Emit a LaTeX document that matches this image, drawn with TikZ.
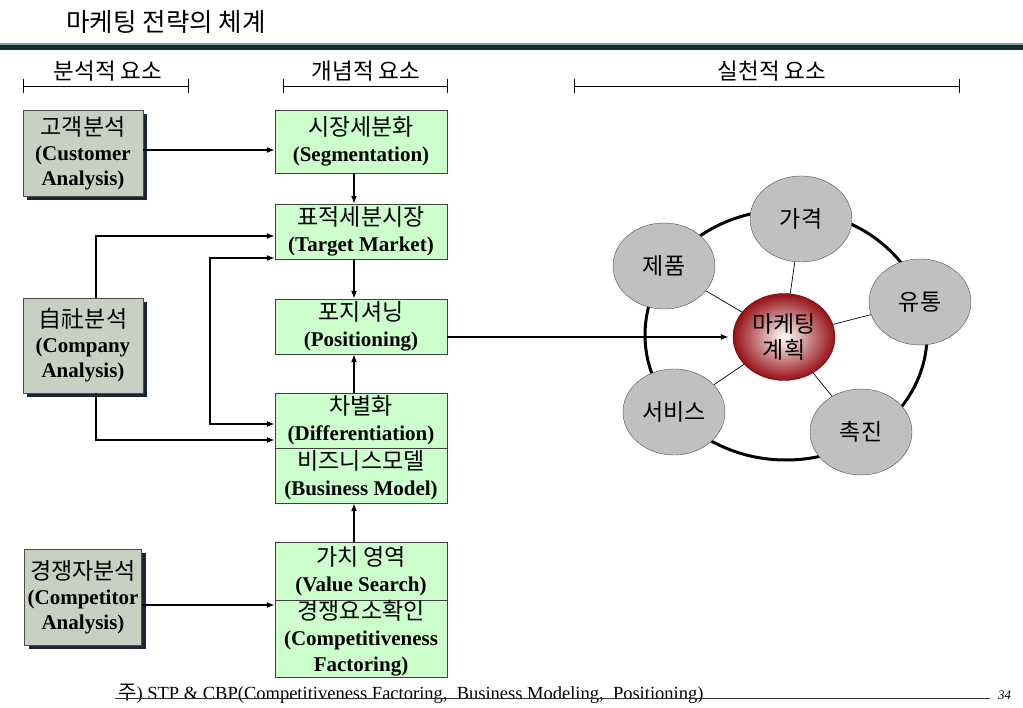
\documentclass[tikz,border=0pt]{standalone}
\usepackage{fontspec}
\setmainfont{Liberation Serif}
\newfontfamily\kr{Noto Sans CJK KR}
\usetikzlibrary{arrows.meta,shapes.geometric,shadows,backgrounds}

\definecolor{anagray}{RGB}{200,208,194}
\definecolor{shadowblue}{RGB}{28,36,56}
\definecolor{stepgreen}{RGB}{204,255,204}
\definecolor{ballgray}{RGB}{192,192,192}
\definecolor{plandark}{RGB}{150,15,20}
\definecolor{rulelight}{RGB}{138,158,158}
\definecolor{ruledark}{RGB}{18,46,46}

\newcommand{\krl}[1]{{\kr\fontsize{23}{25}\selectfont #1}}

\tikzset{
  anabox/.style={draw=black!70, fill=anagray, minimum width=120pt, align=center, inner sep=0pt,
    drop shadow={shadow xshift=4pt, shadow yshift=-4pt, fill=shadowblue, opacity=1},
    font=\fontsize{21}{25}\selectfont},
  stepbox/.style={draw=black!75, fill=stepgreen, minimum width=172pt, align=center, inner sep=0pt,
    font=\fontsize{21}{26}\selectfont},
  mixball/.style={ellipse, draw=black!70, fill=ballgray, minimum width=102pt, minimum height=86pt,
    inner sep=0pt, font=\kr\fontsize{23}{26}\selectfont},
  hdlabel/.style={font=\kr\fontsize{22.5}{24}\selectfont, inner sep=0pt},
  arr/.style={-{Latex[length=8pt,width=6pt]}, line width=1.4pt}
}

\begin{document}
\begin{tikzpicture}[x=1pt, y=-1pt]
  \useasboundingbox (0,0) rectangle (1023,708);

  % title
  \node (title) [anchor=west, font=\kr\fontsize{25.5}{28}\selectfont] at (63,22) {마케팅 전략의 체계};
  \draw[rulelight, line width=2pt] (0,44) -- (1023,44);
  \draw[ruledark, line width=5pt] (0,47.5) -- (1023,47.5);

  % column heads
  \foreach \a/\b/\m/\t [count=\i] in {23/189/108/분석적 요소, 283/448/366/개념적 요소, 574/960/772/실천적 요소} {
    \node (hd\i) [hdlabel] at (\m,71) {\t};
    \draw[{Bar[width=14pt]}-{Bar[width=14pt]}, line width=0.8pt] (\a,86) -- (\b,86);
  }

  % analysis
  \node (cust) [anabox, minimum height=86pt] at (83,153) {\krl{고객분석}\\\textbf{(Customer}\\\textbf{Analysis)}};
  \node (comp) [anabox, minimum height=95pt] at (83,345.5) {\krl{自社분석}\\\textbf{(Company}\\\textbf{Analysis)}};
  \node (rival) [anabox, minimum width=117pt, minimum height=96pt] at (83,597) {\krl{경쟁자분석}\\\textbf{(Competitor}\\\textbf{Analysis)}};

  % concepts
  \node (seg) [stepbox, minimum height=63pt] at (361,141.5) {\krl{시장세분화}\\\textbf{(Segmentation)}};
  \node (tgt) [stepbox, minimum height=55pt] at (361,231.5) {\krl{표적세분시장}\\\textbf{(Target Market)}};
  \node (pos) [stepbox, minimum height=55pt] at (361,326.5) {\krl{포지셔닝}\\\textbf{(Positioning)}};
  \node (diff) [stepbox, minimum height=55pt] at (361,420.5) {\krl{차별화}\\\textbf{(Differentiation)}};
  \node (bm) [stepbox, minimum height=55pt, node distance=55pt, below of=diff] {\krl{비즈니스모델}\\\textbf{(Business Model)}};
  \node (val) [stepbox, minimum height=58pt] at (361,571) {\krl{가치 영역}\\\textbf{(Value Search)}};
  \node (fac) [stepbox, minimum height=77pt, node distance=67.5pt, below of=val] {\krl{경쟁요소확인}\\\textbf{(Competitiveness}\\\textbf{Factoring)}};

  % marketing mix
  \node (plan) [ellipse, minimum width=102pt, minimum height=87pt, inner sep=0pt, draw=plandark!70!black,
    inner color=white, outer color=plandark, font=\kr\fontsize{23}{26}\selectfont, align=center] at (784,337) {마케팅\\계획};
  \node (price) [mixball] at (801,219) {가격};
  \node (product) [mixball] at (664,266) {제품};
  \node (place) [mixball] at (920,302) {유통};
  \node (service) [mixball] at (674,412) {서비스};
  \node (promo) [mixball] at (861,432) {촉진};

  \begin{pgfonlayer}{background}
    \draw[line width=3pt] (786,335) ellipse [x radius=141pt, y radius=125pt];
    \foreach \b in {price,product,place,service,promo}
      \draw[line width=0.7pt] (plan) -- (\b);
  \end{pgfonlayer}

  \draw[arr] (cust.east |- 0,150) -- (seg.west |- 0,150);
  \draw[arr] ([xshift=-7pt]seg.south) -- ([xshift=-7pt]tgt.north);
  \draw[arr] ([xshift=-7pt]tgt.south) -- ([xshift=-7pt]pos.north);
  \draw[arr] ([xshift=-7pt]diff.north) -- ([xshift=-7pt]pos.south);
  \draw[arr] ([xshift=-7pt]val.north) -- ([xshift=-7pt]bm.south);
  \draw[arr] (comp.north -| 96,0) |- (tgt.west |- 0,236);
  \draw[arr] (comp.south -| 96,0) |- (diff.west |- 0,440);
  \draw[arr, {Latex[length=8pt,width=6pt]}-{Latex[length=8pt,width=6pt]}] (tgt.west |- 0,258) -| (210,340) |- (diff.west |- 0,424);
  \draw[arr] (rival.east |- 0,605) -- (fac.west |- 0,605);
  \draw[arr, shorten >=4pt] (pos.east |- plan.west) -- (plan.west);

  % footnote
  \node (note) [anchor=base west, inner sep=0pt, font=\fontsize{18.5}{20}\selectfont] at (118,699)
    {{\kr\fontsize{20}{20}\selectfont 주}) STP \& CBP(Competitiveness Factoring, \ Business Modeling, \ Positioning)};
  \draw[line width=0.8pt, black!80] (115,698) -- (990,698);
  \node (page) [anchor=base west, inner sep=0pt, font=\itshape\fontsize{13}{14}\selectfont] at (998,699) {34};
\end{tikzpicture}
\end{document}
